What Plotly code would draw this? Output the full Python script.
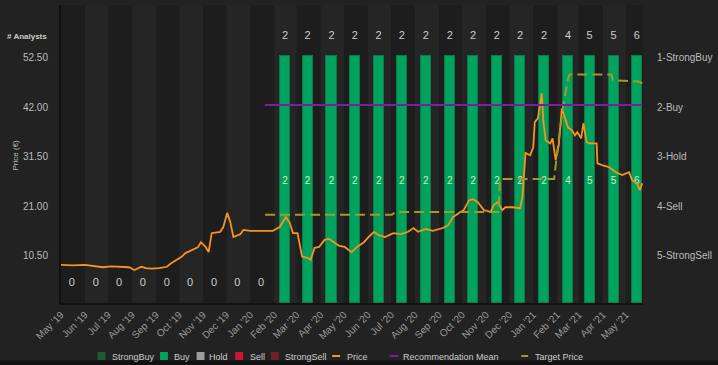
import plotly.graph_objects as go
import pandas as pd

# ---------------- data ----------------
months = pd.date_range("2019-05-01", "2021-05-01", freq="MS")
analysts = [0, 0, 0, 0, 0, 0, 0, 0, 0,
            2, 2, 2, 2, 2, 2, 2, 2, 2, 2, 2, 2,
            4, 5, 5, 6]
strong_buy = [0] * 25
buy = list(analysts)
hold = [0] * 25
sell = [0] * 25
strong_sell = [0] * 25

price_dates = [
    "2019-05-01", "2019-05-16", "2019-06-01", "2019-06-14", "2019-06-24", "2019-07-05",
    "2019-07-18", "2019-07-28", "2019-08-04", "2019-08-13", "2019-08-19", "2019-08-26",
    "2019-09-05", "2019-09-15", "2019-09-20", "2019-09-28", "2019-10-04", "2019-10-09",
    "2019-10-20", "2019-10-25", "2019-10-29", "2019-11-04", "2019-11-08", "2019-11-12",
    "2019-11-23", "2019-11-27", "2019-12-02", "2019-12-06", "2019-12-10", "2019-12-19",
    "2019-12-23", "2020-01-01", "2020-01-13", "2020-01-30", "2020-02-08", "2020-02-16",
    "2020-02-21", "2020-02-25", "2020-03-02", "2020-03-06", "2020-03-08", "2020-03-15",
    "2020-03-19", "2020-03-24", "2020-03-30", "2020-04-06", "2020-04-12", "2020-04-18",
    "2020-04-25", "2020-05-02", "2020-05-11", "2020-05-18", "2020-05-27", "2020-06-02",
    "2020-06-09", "2020-06-15", "2020-06-23", "2020-07-04", "2020-07-14", "2020-07-23",
    "2020-07-30", "2020-08-05", "2020-08-15", "2020-08-24", "2020-09-06", "2020-09-13",
    "2020-09-19", "2020-09-27", "2020-10-03", "2020-10-10", "2020-10-15", "2020-10-21",
    "2020-10-29", "2020-11-07", "2020-11-11", "2020-11-16", "2020-11-22", "2020-11-26",
    "2020-12-05", "2020-12-15", "2020-12-18", "2020-12-22", "2020-12-28", "2021-01-01",
    "2021-01-03", "2021-01-07", "2021-01-12", "2021-01-14", "2021-01-17", "2021-01-23",
    "2021-01-26", "2021-01-30", "2021-02-03", "2021-02-07", "2021-02-11", "2021-02-15",
    "2021-02-20", "2021-02-24", "2021-02-27", "2021-03-04", "2021-03-07", "2021-03-11",
    "2021-03-15", "2021-03-24", "2021-03-25", "2021-03-31", "2021-04-09", "2021-04-18",
    "2021-04-26", "2021-05-05", "2021-05-09", "2021-05-15", "2021-05-19", "2021-05-22",
]
price_values = [
    8.6, 8.5, 8.6, 8.4, 8.1, 8.3,
    8.2, 8.1, 7.5, 8.2, 7.9, 7.8,
    7.9, 8.2, 8.9, 9.6, 10.3, 11.1,
    12.0, 12.3, 13.4, 12.4, 11.3, 15.3,
    15.6, 16.6, 19.6, 17.7, 14.5, 15.1,
    16.0, 15.8, 15.8, 15.8, 16.6, 18.7,
    17.5, 15.3, 15.3, 12.4, 10.3, 10.1,
    9.65, 12.2, 12.4, 13.9, 14.1, 13.4,
    12.6, 12.4, 11.3, 12.4, 13.4, 14.5,
    15.6, 14.9, 14.5, 15.3, 15.1, 15.6,
    16.4, 15.6, 16.2, 15.8, 16.4, 17.0,
    18.7, 19.6, 20.2, 22.3, 22.5, 21.9,
    20.2, 19.8, 21.3, 21.9, 20.2, 20.8,
    20.8, 20.6, 23.0, 32.3, 31.8, 33.5,
    38.8, 39.6, 44.9, 39.2, 35.0, 34.3,
    35.4, 30.8, 33.9, 41.7, 39.6, 37.7,
    37.1, 36.0, 36.7, 35.4, 38.6, 34.6,
    34.3, 34.3, 30.1, 29.7, 29.3, 28.2,
    27.6, 28.2, 26.5, 25.9, 24.4, 25.9,
]

target_dates = ["2020-01-20", "2020-07-02", "2020-07-07", "2020-11-17", "2020-11-19",
                "2021-01-28", "2021-01-31", "2021-02-08", "2021-02-15", "2021-02-17",
                "2021-04-12", "2021-04-14", "2021-05-18", "2021-05-22"]
target_values = [19.2, 19.2, 19.8, 19.8, 26.8,
                 26.8, 31.0, 41.5, 48.0, 48.9,
                 48.9, 47.7, 47.4, 47.0]

rec_dates = ["2020-01-20", "2021-05-22"]
rec_values = [1.96, 1.96]

rec_ticks = [1, 2, 3, 4, 5]
rec_labels = ["1-StrongBuy", "2-Buy", "3-Hold", "4-Sell", "5-StrongSell"]
price_ticks = [10.5, 21.0, 31.5, 42.0, 52.5]

# ---------------- figure ----------------
mid = [m + pd.Timedelta(days=14) for m in months]
bar_w = 13 * 24 * 3600 * 1000
FONT = "Liberation Sans, Arial, sans-serif"

def frac(vals):
    return [v / t if t else 0 for v, t in zip(vals, analysts)]

fig = go.Figure()

cats = [("StrongBuy", strong_buy, "#1d5a3a"), ("Buy", buy, "#00a35e"),
        ("Hold", hold, "#9e9e9e"), ("Sell", sell, "#c8163e"),
        ("StrongSell", strong_sell, "#6e1f2e")]
for name, vals, col in cats:
    fig.add_trace(go.Bar(
        x=mid, y=frac(vals), width=bar_w, name=name, yaxis="y",
        marker=dict(color=col, line=dict(color="#0b7a47",
                                         width=[1 if v else 0 for v in vals])),
        hoverinfo="skip", showlegend=False,
    ))

has = [a > 0 for a in analysts]
# counts inside the bars
fig.add_trace(go.Scatter(
    x=[d for d, h in zip(mid, has) if h], y=[f * 0.49 for f, h in zip(frac(buy), has) if h],
    text=[str(b) for b, h in zip(buy, has) if h], mode="text", showlegend=False,
    textfont=dict(color="#cdeec0", size=10, family=FONT), hoverinfo="skip"))
# analyst counts at top / zero counts at bottom
fig.add_trace(go.Scatter(
    x=[d for d, h in zip(mid, has) if h], y=[1.081] * sum(has),
    text=[str(a) for a, h in zip(analysts, has) if h], mode="text", showlegend=False,
    textfont=dict(color="#cccccc", size=11, family=FONT), hoverinfo="skip"))
fig.add_trace(go.Scatter(
    x=[d for d, h in zip(mid, has) if not h], y=[0.081] * (len(has) - sum(has)),
    text=[str(a) for a, h in zip(analysts, has) if not h], mode="text", showlegend=False,
    textfont=dict(color="#cccccc", size=11, family=FONT), hoverinfo="skip"))

fig.add_trace(go.Scatter(x=price_dates, y=price_values, name="Price", mode="lines",
                         yaxis="y2", line=dict(color="#f7931e", width=1.8), showlegend=False))
fig.add_trace(go.Scatter(x=rec_dates, y=rec_values, name="Recommendation Mean", mode="lines",
                         yaxis="y3", line=dict(color="#7a1fa0", width=2), showlegend=False))
fig.add_trace(go.Scatter(x=target_dates, y=target_values, name="Target Price", mode="lines",
                         yaxis="y2", line=dict(color="#a09a2a", width=2, dash="10px,5px"),
                         showlegend=False))

# alternating month bands
shapes = []
for i, m in enumerate(months):
    if i % 2 == 1:
        shapes.append(dict(type="rect", xref="x", yref="paper", x0=m,
                           x1=m + pd.offsets.MonthBegin(1), y0=0, y1=1,
                           fillcolor="#252525", line=dict(width=0), layer="below"))

# custom legend (pixel positions -> paper coords)
L, PW, B, PH = 61, 588, 303, 298
def px(x): return (x - L) / PW
def py(y): return (B - y) / PH

annotations = []
leg_sq = [("StrongBuy", "#1d5a3a", 98, 110), ("Buy", "#00a35e", 161, 173),
          ("Hold", "#9e9e9e", 198, 209), ("Sell", "#c8163e", 237, 250),
          ("StrongSell", "#6e1f2e", 273, 285)]
for name, col, x0, tx in leg_sq:
    shapes.append(dict(type="rect", xref="paper", yref="paper", x0=px(x0), x1=px(x0 + 8),
                       y0=py(352), y1=py(360), fillcolor=col, line=dict(width=0), layer="above"))
    annotations.append(dict(text=name, xref="paper", yref="paper", x=px(tx), y=py(357),
                            xanchor="left", yanchor="middle", showarrow=False,
                            font=dict(size=9, color="#cccccc")))
leg_ln = [("Price", "#f7931e", 335, 343, 348),
          ("Recommendation Mean", "#7a1fa0", 393, 402, 405),
          ("Target Price", "#a09a2a", 526, 533, 538)]
for name, col, x0, x1, tx in leg_ln:
    shapes.append(dict(type="line", xref="paper", yref="paper", x0=px(x0), x1=px(x1),
                       y0=py(356), y1=py(356), line=dict(color=col, width=2),
                       layer="above"))
    annotations.append(dict(text=name, xref="paper", yref="paper", x=px(tx), y=py(357),
                            xanchor="left", yanchor="middle", showarrow=False,
                            font=dict(size=9, color="#cccccc")))

shapes.append(dict(type="rect", xref="paper", yref="paper", x0=px(-5), x1=px(725),
                   y0=py(360.5), y1=py(370), fillcolor="#111111", line=dict(width=0),
                   layer="above"))

annotations += [
    dict(text="<b># Analysts</b>", xref="paper", yref="paper", x=px(49), y=py(37),
         xanchor="right", yanchor="middle", showarrow=False,
         font=dict(size=8, color="#cccccc")),
    dict(text="Price (€)", xref="paper", yref="paper", x=px(15), y=py(155),
         xanchor="center", yanchor="middle", textangle=-90, showarrow=False,
         font=dict(size=8, color="#bbbbbb")),
]

fig.update_layout(
    width=718, height=365,
    margin=dict(l=61, r=69, t=5, b=62),
    paper_bgcolor="#222222", plot_bgcolor="#1d1d1d",
    font=dict(family=FONT, color="#bbbbbb", size=10),
    barmode="stack", bargap=0,
    showlegend=False,
    xaxis=dict(type="date", range=["2019-05-01", "2021-05-23"], tick0="2019-05-01",
               dtick="M1", tickformat="%b '%y", tickangle=-45, showgrid=False,
               zeroline=False, showline=True, linecolor="#111111", linewidth=2,
               tickfont=dict(size=10, color="#999999"), ticks=""),
    yaxis=dict(range=[0, 1.2065], visible=False, showgrid=False, zeroline=False),
    yaxis2=dict(overlaying="y", side="left", range=[0.53, 63.61], tickvals=price_ticks,
                tickformat=".2f", showgrid=False, zeroline=False, showline=True,
                linecolor="#111111", linewidth=2, ticklabelstandoff=9,
                tickfont=dict(size=10, color="#bbbbbb")),
    yaxis3=dict(overlaying="y", side="right", range=[5.95, -0.058], tickvals=rec_ticks,
                ticktext=rec_labels, showgrid=False, zeroline=False,
                ticklabelstandoff=13, tickfont=dict(size=10, color="#bbbbbb")),
    shapes=shapes,
    annotations=annotations,
)

fig.write_html("out.html", config={"displayModeBar": False},
               post_script="document.body.style.margin='0';document.body.style.background='#222222';")
